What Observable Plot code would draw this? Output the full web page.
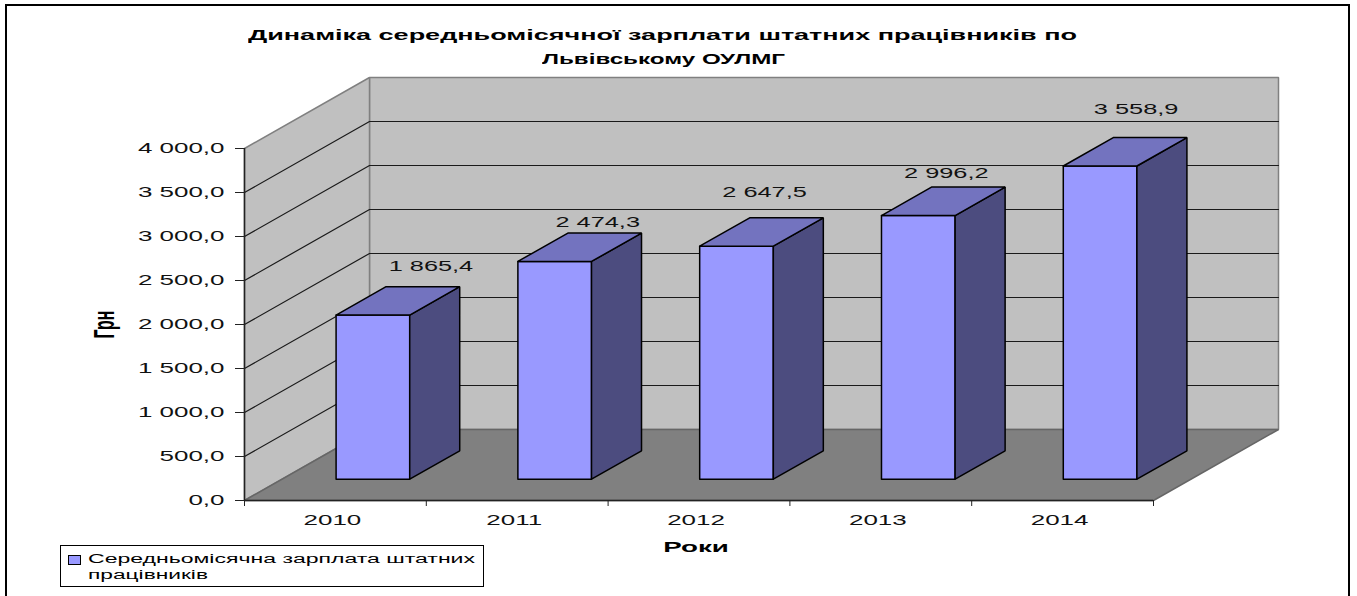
<!DOCTYPE html>
<html><head><meta charset="utf-8">
<style>
html,body{margin:0;padding:0;background:#fff;overflow:hidden}
body{width:1357px;height:596px;position:relative;font-family:"Liberation Sans",Arial,sans-serif}
.fr{position:absolute;left:5px;top:4px;width:1341px;height:592px;border:2px solid #000;border-bottom:none;pointer-events:none}
.t{position:absolute;white-space:nowrap;transform-origin:left top;color:#000}
.title{font-weight:bold;font-size:14px}
.leg{position:absolute;left:60px;top:545px;width:422px;height:40px;border:1.5px solid #000;background:#fff}
.sw{position:absolute;left:68px;top:555px;width:11px;height:8px;background:#9999FF;border:1.5px solid #000}
.lt{font-size:12px}
</style>
<script src="https://cdn.jsdelivr.net/npm/d3@7"></script>
<script src="https://cdn.jsdelivr.net/npm/@observablehq/plot@0.6"></script>
</head><body>
<div id="chart"></div>
<script>
const years = [2010, 2011, 2012, 2013, 2014];
const salaries = [1865.4, 2474.3, 2647.5, 2996.2, 3558.9];
const yTicks = [0, 500, 1000, 1500, 2000, 2500, 3000, 3500, 4000];
const titleLines = ["Динаміка середньомісячної зарплати штатних працівників по", "Львівському ОУЛМГ"];
const legendLines = ["Середньомісячна зарплата штатних", "працівників"];
const yLabel = "Грн", xLabel = "Роки";

// oblique projection of the 3-D box, in data units
const depthX = 0.6876, depthY = 807;
const barW = 0.405, zFront = 0.3, zBack = 0.7, yMax = 4000, nCat = years.length;
const P = (c, v, z) => ({x: c + z * depthX, y: v + z * depthY});
const poly = (pts, fill, stroke, sw = 1) => Plot.line([...pts, pts[0]], {x: "x", y: "y", fill, stroke, strokeWidth: sw, strokeLinejoin: "miter"});
const path = (pts, stroke, sw = 1) => Plot.line(pts, {x: "x", y: "y", stroke, strokeWidth: sw});

const fmt = d3.formatLocale({decimal: ",", thousands: " ", grouping: [3]}).format(",.1f");
const labelShift = [[8, -20], [-7, -11], [-22, -25], [-22, -14], [-14, -28]];

const marks = [
  poly([P(0,0,1), P(nCat,0,1), P(nCat,yMax,1), P(0,yMax,1)], "#C0C0C0", "#808080", 1.5),
  poly([P(0,0,0), P(0,0,1), P(0,yMax,1), P(0,yMax,0)], "#C0C0C0", "#808080", 1.5),
  poly([P(0,0,0), P(nCat,0,0), P(nCat,0,1), P(0,0,1)], "#808080", "#666666", 1.5),
  ...yTicks.filter(v => v > 0 && v < yMax).map(v => path([P(0,v,0), P(0,v,1), P(nCat,v,1)], "#1a1a1a", 1.2)),
];
salaries.forEach((v, i) => {
  const a = i + 0.5 - barW / 2, b = i + 0.5 + barW / 2;
  marks.push(
    poly([P(a,0,zFront), P(b,0,zFront), P(b,v,zFront), P(a,v,zFront)], "#9999FF", "#000", 1.5),
    poly([P(b,0,zFront), P(b,0,zBack), P(b,v,zBack), P(b,v,zFront)], "#4C4C7F", "#000", 1.5),
    poly([P(a,v,zFront), P(b,v,zFront), P(b,v,zBack), P(a,v,zBack)], "#7373BF", "#000", 1.5),
    Plot.text([{...P(i + 0.5, v, zBack), t: fmt(v)}], {x: "x", y: "y", text: "t", dx: labelShift[i][0], dy: labelShift[i][1], fontSize: 14, fill: "#111", lineAnchor: "middle"})
  );
});
marks.push(
  Plot.ruleX([0], {stroke: "#222", strokeWidth: 1.5}),
  Plot.ruleY([0], {stroke: "#222", strokeWidth: 1.5}),
  Plot.axisY({ticks: yTicks, tickFormat: fmt, tickSize: 9, tickPadding: 11, label: null, fontSize: 15, stroke: "#222", fill: "#111"}),
  Plot.axisX({ticks: d3.range(0, nCat + 1), tickFormat: () => "", tickSize: 6, label: null, stroke: "#222"}),
  Plot.axisX({ticks: years.map((y, i) => i + 0.5), tickFormat: d => String(years[Math.floor(d)]), tickSize: 0, tickPadding: 14, label: null, fontSize: 15, fill: "#111", dx: -3}),
  Plot.text([xLabel], {frameAnchor: "bottom", dy: 47, dx: -3, fontWeight: "bold", fontSize: 14, fill: "#000", lineAnchor: "middle"}),
  Plot.text([yLabel], {frameAnchor: "left", rotate: -90, dx: -140, textAnchor: "middle", fontWeight: "bold", fontSize: 16, fill: "#000", lineAnchor: "middle"})
);

const chart = Plot.plot({
  width: 1357, height: 596,
  marginLeft: 244, marginRight: 204, marginTop: 148, marginBottom: 96,
  x: {domain: [0, nCat]}, y: {domain: [0, yMax]},
  style: {fontFamily: '"Liberation Sans",Arial,sans-serif', background: "transparent", overflow: "visible"},
  marks
});
document.getElementById("chart").appendChild(chart);

// The reference is a horizontally stretched bitmap: stretch glyphs the same way.
d3.select(chart).selectAll("text").each(function () {
  const s = this.textContent;
  if (!s || s === yLabel) return;
  const k = s === xLabel ? 1.98 : (salaries.map(fmt).includes(s) ? 1.81 : 1.73);
  this.setAttribute("textLength", this.getComputedTextLength() * k);
  this.setAttribute("lengthAdjust", "spacingAndGlyphs");
});
d3.select(chart).selectAll("text").filter(function () { return this.textContent === yLabel; })
  .attr("transform", function () { return (this.getAttribute("transform") || "") + " scale(1,1.8)"; });

// Frame, title and legend around the SVG
const body = document.body;
const frame = document.createElement("div"); frame.className = "fr"; body.appendChild(frame);
const addText = (s, cls, left, top, width) => {
  const el = document.createElement("div");
  el.className = "t " + cls; el.textContent = s;
  el.style.left = left + "px"; el.style.top = top + "px";
  body.appendChild(el);
  el.style.transform = `scaleX(${width / el.getBoundingClientRect().width})`;
};
addText(titleLines[0], "title", 248, 27, 829);
addText(titleLines[1], "title", 542, 51, 243);
const leg = document.createElement("div"); leg.className = "leg"; body.appendChild(leg);
const sw = document.createElement("div"); sw.className = "sw"; body.appendChild(sw);
addText(legendLines[0], "lt", 88, 552, 387);
addText(legendLines[1], "lt", 88, 568, 120);
</script>
</body></html>
